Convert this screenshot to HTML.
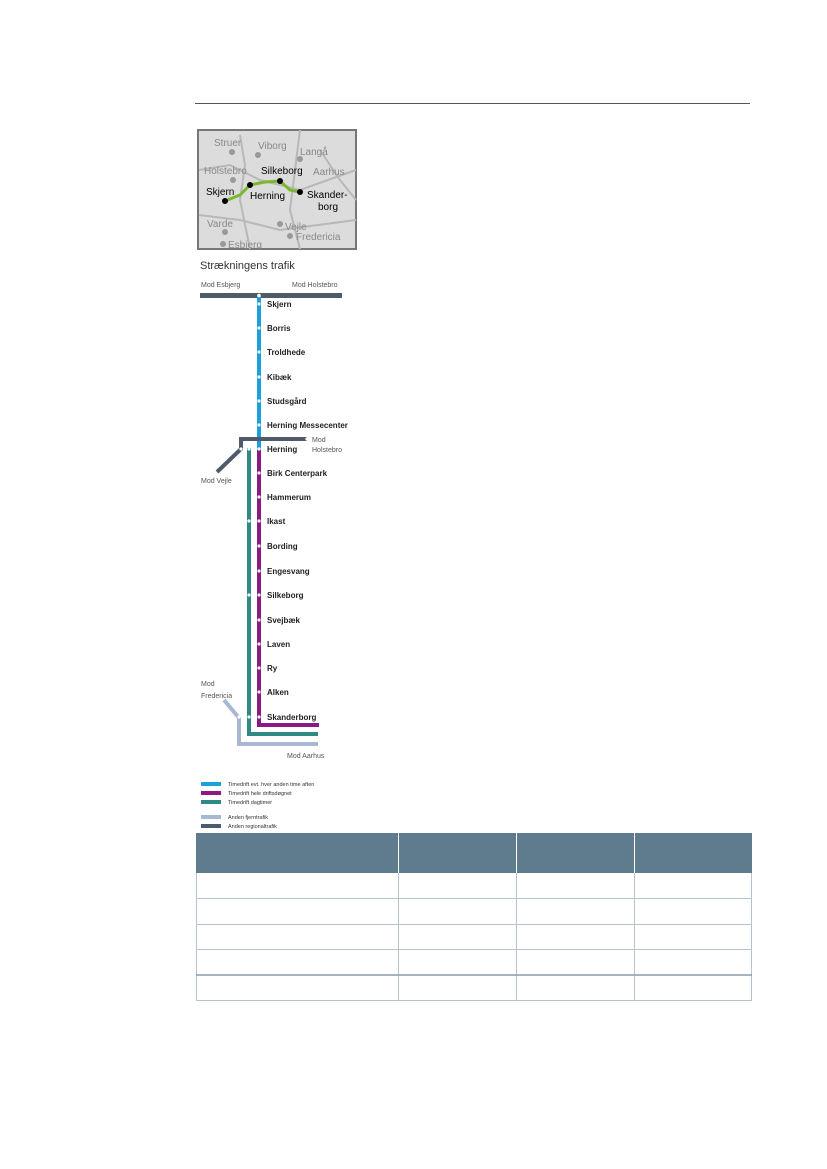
<!DOCTYPE html>
<html><head><meta charset="utf-8"><style>
body{margin:0;background:#fff;}
.p{position:relative;width:827px;height:1169px;font-family:"Liberation Sans",sans-serif;}
</style></head><body><div class="p">
<div style="position:absolute;left:195px;top:103px;width:555px;height:1px;background:#555"></div>
<svg width="827" height="1169" style="position:absolute;left:0;top:0" font-family="Liberation Sans, sans-serif">
<!-- map -->
<rect x="198" y="130" width="158" height="119" fill="#dcdcdc" stroke="#777" stroke-width="2"/>
<g stroke="#b8b8b8" stroke-width="2" fill="none">
<path d="M199 170 L230 165 L260 180 L300 190 L356 170"/>
<path d="M240 135 L245 165 L240 200 L250 249"/>
<path d="M300 130 L295 170 L290 210 L300 249"/>
<path d="M199 215 L240 220 L280 230 L356 220"/>
<path d="M320 150 L340 180 L356 200"/>
</g>
<polyline points="225,201 240,195 250,185 265,182 280,181 290,190 300,192" fill="none" stroke="#7cb82f" stroke-width="3"/>
<g fill="#000"><circle cx="225" cy="201" r="3"/><circle cx="250" cy="185" r="3"/><circle cx="280" cy="181" r="3"/><circle cx="300" cy="192" r="3"/></g>
<g fill="#999"><circle cx="232" cy="152" r="3"/><circle cx="258" cy="155" r="3"/><circle cx="300" cy="159" r="3"/><circle cx="233" cy="180" r="3"/><circle cx="225" cy="232" r="3"/><circle cx="280" cy="224" r="3"/><circle cx="290" cy="236" r="3"/><circle cx="223" cy="244" r="3"/></g>
<g font-size="10" fill="#888"><text x="214" y="146">Struer</text><text x="258" y="149">Viborg</text><text x="300" y="155">Langå</text><text x="204" y="174">Holstebro</text><text x="313" y="175">Aarhus</text><text x="207" y="227">Varde</text><text x="285" y="230">Vejle</text><text x="296" y="240">Fredericia</text><text x="228" y="248">Esbjerg</text></g>
<g font-size="10" fill="#000"><text x="261" y="174">Silkeborg</text><text x="206" y="195">Skjern</text><text x="250" y="199">Herning</text><text x="307" y="198">Skander-</text><text x="318" y="210">borg</text></g>
<text x="200" y="269" font-size="11" fill="#333">Strækningens trafik</text>
<g font-size="7" fill="#555"><text x="201" y="287">Mod Esbjerg</text><text x="292" y="287">Mod Holstebro</text></g>
<rect x="200" y="293" width="142" height="5" fill="#4f5b6b"/>
<!-- lines -->
<polyline points="224,700 239,718 239,744 318,744" fill="none" stroke="#a8b8d4" stroke-width="4"/>
<polyline points="249,448 249,734 318,734" fill="none" stroke="#2f8a86" stroke-width="4"/>
<polyline points="259,449 259,725 319,725" fill="none" stroke="#8b1a85" stroke-width="4"/>
<line x1="259" y1="296" x2="259" y2="450" stroke="#1aa0dc" stroke-width="4"/>
<polyline points="217,472 241,449 241,439 307,439" fill="none" stroke="#4f5b6b" stroke-width="4" stroke-linejoin="miter"/>
<circle cx="259" cy="295.5" r="1.8" fill="#fff"/>
<g fill="#fff">
<circle cx="259" cy="304" r="1.6"/><circle cx="259" cy="328" r="1.6"/><circle cx="259" cy="352" r="1.6"/><circle cx="259" cy="377" r="1.6"/><circle cx="259" cy="401" r="1.6"/><circle cx="259" cy="425" r="1.6"/><circle cx="259" cy="449" r="1.6"/><circle cx="259" cy="473" r="1.6"/><circle cx="259" cy="497" r="1.6"/><circle cx="259" cy="521" r="1.6"/><circle cx="259" cy="546" r="1.6"/><circle cx="259" cy="571" r="1.6"/><circle cx="259" cy="595" r="1.6"/><circle cx="259" cy="620" r="1.6"/><circle cx="259" cy="644" r="1.6"/><circle cx="259" cy="668" r="1.6"/><circle cx="259" cy="692" r="1.6"/><circle cx="259" cy="717" r="1.6"/>
<circle cx="249" cy="449" r="1.6"/><circle cx="249" cy="521" r="1.6"/><circle cx="249" cy="595" r="1.6"/><circle cx="249" cy="717" r="1.6"/><circle cx="241" cy="449" r="1.6"/><circle cx="239" cy="717" r="1.6"/><circle cx="307" cy="439" r="1.6"/>
</g>
<g font-size="8" fill="#222" font-weight="bold">
<text x="267" y="307">Skjern</text><text x="267" y="331">Borris</text><text x="267" y="355">Troldhede</text><text x="267" y="380">Kibæk</text><text x="267" y="404">Studsgård</text><text x="267" y="428">Herning Messecenter</text><text x="267" y="452">Herning</text><text x="267" y="476">Birk Centerpark</text><text x="267" y="500">Hammerum</text><text x="267" y="524">Ikast</text><text x="267" y="549">Bording</text><text x="267" y="574">Engesvang</text><text x="267" y="598">Silkeborg</text><text x="267" y="623">Svejbæk</text><text x="267" y="647">Laven</text><text x="267" y="671">Ry</text><text x="267" y="695">Alken</text><text x="267" y="720">Skanderborg</text>
</g>
<g font-size="7" fill="#555"><text x="312" y="442">Mod</text><text x="312" y="452">Holstebro</text><text x="201" y="483">Mod Vejle</text><text x="201" y="686">Mod</text><text x="201" y="698">Fredericia</text><text x="287" y="758">Mod Aarhus</text></g>
<g font-size="5.5" fill="#333">
<rect x="201" y="782" width="20" height="4" fill="#1aa0dc"/><text x="228" y="786">Timedrift evt. hver anden time aften</text>
<rect x="201" y="791" width="20" height="4" fill="#8b1a85"/><text x="228" y="795">Timedrift hele driftsdøgnet</text>
<rect x="201" y="800" width="20" height="4" fill="#2f8a86"/><text x="228" y="804">Timedrift dagtimer</text>
<rect x="201" y="815" width="20" height="4" fill="#a8b8d4"/><text x="228" y="819">Anden fjerntrafik</text>
<rect x="201" y="824" width="20" height="4" fill="#4f5b6b"/><text x="228" y="828">Anden regionaltrafik</text>
</g>
<!-- table -->
<rect x="196" y="833" width="556" height="40" fill="#5f7b8e"/>
<g stroke="#fff" stroke-width="1"><line x1="398.5" y1="833" x2="398.5" y2="873"/><line x1="516.5" y1="833" x2="516.5" y2="873"/><line x1="634.5" y1="833" x2="634.5" y2="873"/></g>
<g stroke="#b4c3d0" stroke-width="1" fill="none">
<line x1="196.5" y1="873" x2="196.5" y2="1000"/><line x1="751.5" y1="873" x2="751.5" y2="1000"/>
<line x1="398.5" y1="873" x2="398.5" y2="1000"/><line x1="516.5" y1="873" x2="516.5" y2="1000"/><line x1="634.5" y1="873" x2="634.5" y2="1000"/>
<line x1="196" y1="898.5" x2="752" y2="898.5"/><line x1="196" y1="924.5" x2="752" y2="924.5"/><line x1="196" y1="949.5" x2="752" y2="949.5"/><line x1="196" y1="1000.5" x2="752" y2="1000.5"/>
</g>
<line x1="196" y1="975" x2="752" y2="975" stroke="#8a9aa8" stroke-width="1.5"/>
</svg>
</div></body></html>
